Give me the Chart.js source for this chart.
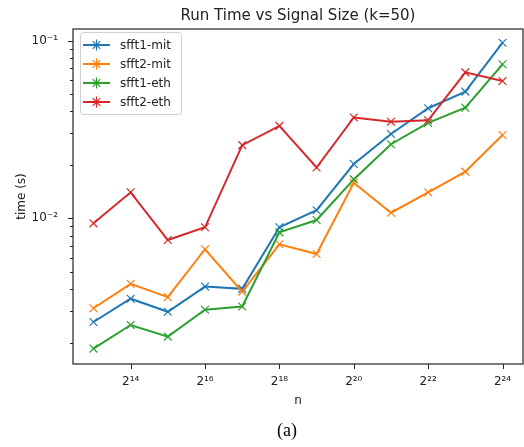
<!DOCTYPE html>
<html><head><meta charset="utf-8">
<script src="https://cdn.jsdelivr.net/npm/chart.js@4/dist/chart.umd.min.js"></script>
<style>html,body{margin:0;padding:0;background:#fff}canvas{display:block}</style>
</head><body>
<canvas id="c" width="524" height="447"></canvas>
<script>
// ---- data ----
const exponents = [13, 14, 15, 16, 17, 18, 19, 20, 21, 22, 23, 24]; // n = 2^k
const seriesNames = ['sfft1-mit', 'sfft2-mit', 'sfft1-eth', 'sfft2-eth'];
const sfft1Mit = [0.00261, 0.00353, 0.00298, 0.00413, 0.00401, 0.0089, 0.0111, 0.0202, 0.0298, 0.0416, 0.0516, 0.0972];
const sfft2Mit = [0.00312, 0.00428, 0.00360, 0.00670, 0.00387, 0.00714, 0.0063, 0.01585, 0.01075, 0.0140, 0.0183, 0.0294];
const sfft1Eth = [0.00185, 0.00251, 0.00216, 0.00306, 0.00319, 0.00834, 0.00978, 0.01655, 0.0261, 0.0344, 0.0419, 0.0735];
const sfft2Eth = [0.00937, 0.0140, 0.00755, 0.0089, 0.0258, 0.0331, 0.0193, 0.0369, 0.0349, 0.0356, 0.0662, 0.0592];
const xTickExponents = [14, 16, 18, 20, 22, 24];
const yMajorTicks = [0.01, 0.1];
const yMajorLabels = ['10\u207B\u00B2', '10\u207B\u00B9'];
const yMinorTicks = [0.002, 0.003, 0.004, 0.005, 0.006, 0.007, 0.008, 0.009,
                     0.02, 0.03, 0.04, 0.05, 0.06, 0.07, 0.08, 0.09];
const titleText = 'Run Time vs Signal Size (k=50)';
const xTitle = 'n';
const yTitle = 'time (s)';
const captionText = '(a)';

// ---- styling ----
const colors = ['#1f77b4', '#ff7f0e', '#2ca02c', '#d62728'];
const FONT = "'DejaVu Sans', sans-serif";
const SUP = {'0':'\u2070','1':'\u00B9','2':'\u00B2','3':'\u00B3','4':'\u2074','5':'\u2075','6':'\u2076','7':'\u2077','8':'\u2078','9':'\u2079','-':'\u207B'};
const sup = s => String(s).split('').map(c => SUP[c] || c).join('');

const allSeries = [sfft1Mit, sfft2Mit, sfft1Eth, sfft2Eth];
const datasets = allSeries.map((vals, i) => ({
  label: seriesNames[i],
  data: exponents.map((e, j) => ({x: e, y: vals[j]})),
  borderColor: colors[i],
  backgroundColor: colors[i],
  borderWidth: 2,
  pointStyle: 'crossRot',
  pointRadius: 5.5,
  pointHoverRadius: 5.5,
  pointBorderWidth: 1.2,
  pointBorderColor: colors[i],
  tension: 0,
  fill: false,
  order: allSeries.length - 1 - i
}));

function drawMarker(ctx, x, y, color) {
  ctx.save();
  ctx.strokeStyle = color;
  ctx.lineWidth = 1.2;
  ctx.beginPath();
  ctx.moveTo(x - 3.8, y - 3.8); ctx.lineTo(x + 3.8, y + 3.8);
  ctx.moveTo(x - 3.8, y + 3.8); ctx.lineTo(x + 3.8, y - 3.8);
  ctx.moveTo(x, y - 5.5); ctx.lineTo(x, y + 5.5);
  ctx.stroke();
  ctx.restore();
}

const decor = {
  id: 'decor',
  beforeDraw(chart) {
    const ctx = chart.ctx;
    ctx.save();
    ctx.fillStyle = '#fff';
    ctx.fillRect(0, 0, chart.width, chart.height);
    ctx.restore();
  },
  afterDraw(chart) {
    const ctx = chart.ctx;
    const a = chart.chartArea;
    const xs = chart.scales.x, ys = chart.scales.y;
    ctx.save();
    // frame
    ctx.strokeStyle = '#222';
    ctx.lineWidth = 1.2;
    ctx.strokeRect(a.left, a.top, a.right - a.left, a.bottom - a.top);
    // ticks
    ctx.lineWidth = 1;
    ctx.beginPath();
    xTickExponents.forEach(e => {
      const px = Math.round(xs.getPixelForValue(e)) + 0.5;
      ctx.moveTo(px, a.bottom); ctx.lineTo(px, a.bottom + 5);
    });
    yMajorTicks.forEach(v => {
      const py = Math.round(ys.getPixelForValue(v)) + 0.5;
      ctx.moveTo(a.left, py); ctx.lineTo(a.left - 5, py);
    });
    yMinorTicks.forEach(v => {
      const py = Math.round(ys.getPixelForValue(v)) + 0.5;
      ctx.moveTo(a.left, py); ctx.lineTo(a.left - 3, py);
    });
    ctx.stroke();
    // title
    ctx.fillStyle = '#222';
    ctx.font = "15px " + FONT;
    ctx.textAlign = 'center';
    ctx.textBaseline = 'alphabetic';
    ctx.fillText(titleText, (a.left + a.right) / 2, 20);
    // caption
    ctx.fillStyle = '#000';
    ctx.font = "18px 'Liberation Serif', 'Times New Roman', serif";
    ctx.textBaseline = 'middle';
    ctx.fillText(captionText, 287, 431);
    // legend
    const lx = a.left + 7, ly = a.top + 3, lw = 101, lh = 82;
    ctx.fillStyle = 'rgba(255,255,255,0.85)';
    ctx.strokeStyle = '#d0d0d0';
    ctx.lineWidth = 1;
    ctx.beginPath();
    if (ctx.roundRect) ctx.roundRect(lx + 0.5, ly + 0.5, lw, lh, 3); else ctx.rect(lx + 0.5, ly + 0.5, lw, lh);
    ctx.fill(); ctx.stroke();
    ctx.font = "12px " + FONT;
    ctx.textAlign = 'left';
    ctx.textBaseline = 'middle';
    chart.data.datasets.forEach((ds, i) => {
      const yy = a.top + 16 + i * 19;
      ctx.strokeStyle = ds.borderColor;
      ctx.lineWidth = 2;
      ctx.beginPath();
      ctx.moveTo(a.left + 10, yy); ctx.lineTo(a.left + 37, yy);
      ctx.stroke();
      drawMarker(ctx, a.left + 23.5, yy, ds.borderColor);
      ctx.fillStyle = '#222';
      ctx.fillText(ds.label, a.left + 47, yy + 0.5);
    });
    ctx.restore();
  }
};

new Chart(document.getElementById('c'), {
  type: 'line',
  data: { datasets },
  plugins: [decor],
  options: {
    responsive: false,
    animation: false,
    devicePixelRatio: 1,
    layout: { autoPadding: false, padding: { left: 0, top: 29, right: 1, bottom: 33 } },
    plugins: { legend: { display: false }, title: { display: false }, tooltip: { enabled: false } },
    scales: {
      x: {
        type: 'linear',
        min: 12.45,
        max: 24.55,
        afterBuildTicks: s => { s.ticks = xTickExponents.map(v => ({value: v})); },
        afterFit: s => { s.height = 50; s.paddingLeft = 0; s.paddingRight = 0; },
        grid: { display: false, drawTicks: false },
        border: { display: false },
        ticks: {
          autoSkip: false,
          maxRotation: 0,
          padding: 11,
          color: '#222',
          font: { family: FONT, size: 12 },
          callback: v => '2' + sup(v)
        },
        title: { display: true, text: xTitle, color: '#222', font: { family: FONT, size: 12 }, padding: { top: 0, bottom: 6 } }
      },
      y: {
        type: 'logarithmic',
        min: 0.001515,
        max: 0.1161,
        afterBuildTicks: s => {
          s.ticks = yMinorTicks.concat(yMajorTicks).sort((p, q) => p - q).map(v => ({value: v, major: yMajorTicks.includes(v)}));
        },
        afterFit: s => { s.width = 73; s.paddingTop = 0; s.paddingBottom = 0; },
        grid: { display: false, drawTicks: false },
        border: { display: false },
        ticks: {
          autoSkip: false,
          padding: 15,
          color: '#222',
          font: { family: FONT, size: 12 },
          callback: v => { const k = yMajorTicks.indexOf(v); return k >= 0 ? yMajorLabels[k] : ''; }
        },
        title: { display: true, text: yTitle, color: '#222', font: { family: FONT, size: 12 }, padding: { top: 15, bottom: 0 } }
      }
    }
  }
});
</script>
</body></html>
